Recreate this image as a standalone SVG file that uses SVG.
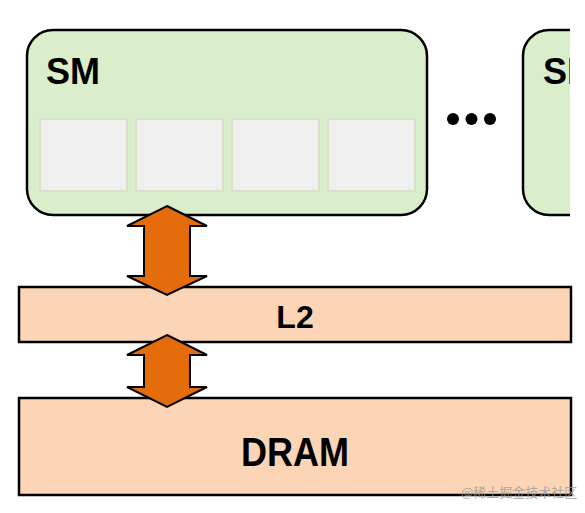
<svg xmlns="http://www.w3.org/2000/svg" width="585" height="513" viewBox="0 0 585 513">
<style>
.sm{fill:#dbeecb;stroke:#000;stroke-width:2.5}
.core{fill:#f0f0f0;stroke:#d3e2c8;stroke-width:2}
.bar{fill:#fbd5b5;stroke:#000;stroke-width:2.5}
.arrow{fill:#e46c0a;stroke:#000;stroke-width:2;stroke-linejoin:miter}
.lbl{font-family:"Liberation Sans",Arial,sans-serif;font-weight:bold;fill:#000}
.wm{font-family:"Noto Sans CJK SC","Liberation Sans",sans-serif;font-size:13px;fill:#9a9a9a;opacity:0.8}
</style>
<defs>
<clipPath id="cut"><rect x="0" y="0" width="570" height="513"/></clipPath>
</defs>
<rect width="585" height="513" fill="#fff"/>
<g id="sm1">
<rect class="sm" x="27" y="30" width="400" height="185" rx="26" ry="26"/>
<text class="lbl" x="46" y="84" font-size="36">SM</text>
<rect class="core" x="40" y="119" width="87" height="72"/>
<rect class="core" x="136" y="119" width="87" height="72"/>
<rect class="core" x="232" y="119" width="87" height="72"/>
<rect class="core" x="328" y="119" width="87" height="72"/>
</g>
<g id="dots">
<circle cx="453" cy="119" r="6"/>
<circle cx="471.5" cy="119" r="6"/>
<circle cx="490" cy="119" r="6"/>
</g>
<g id="sm2" clip-path="url(#cut)">
<rect class="sm" x="523" y="30" width="200" height="185" rx="26" ry="26"/>
<text class="lbl" x="543" y="84" font-size="36">SM</text>
</g>
<g id="l2">
<rect class="bar" x="19" y="287" width="552" height="55"/>
<text class="lbl" x="295" y="328" font-size="32" text-anchor="middle">L2</text>
</g>
<g id="dram">
<rect class="bar" x="19" y="398" width="552" height="97"/>
<text class="lbl" x="295" y="466" font-size="40" text-anchor="middle" textLength="108" lengthAdjust="spacingAndGlyphs">DRAM</text>
</g>
<g id="connectors">
<polygon class="arrow" points="167,206 207,226 190,226 190,276 207,276 167,295 127,276 144,276 144,226 127,226"/>
<polygon class="arrow" points="167,335 207,355 190,355 190,387 207,387 167,407 127,387 144,387 144,355 127,355"/>
</g>
<text class="wm" x="461" y="497">@稀土掘金技术社区</text>
</svg>
